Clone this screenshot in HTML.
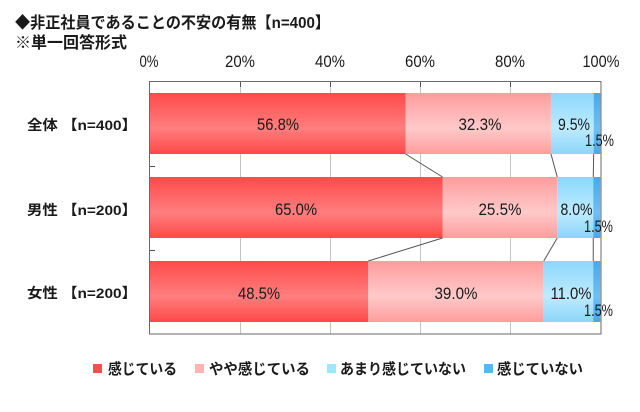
<!DOCTYPE html>
<html><head><meta charset="utf-8"><style>
html,body{margin:0;padding:0;background:#fff;}
svg{display:block;}
text{font-family:"Liberation Sans","Noto Sans CJK JP",sans-serif;fill:#1a1a1a;}
.b{font-weight:bold;}
</style></head><body>
<svg width="640" height="412" viewBox="0 0 640 412" xmlns="http://www.w3.org/2000/svg">
<defs>
<linearGradient id="gr" x1="0" y1="0" x2="0" y2="1">
<stop offset="0" stop-color="#ff4a4a"/><stop offset="0.58" stop-color="#ff7e7e"/><stop offset="1" stop-color="#ff4848"/>
</linearGradient>
<linearGradient id="gp" x1="0" y1="0" x2="0" y2="1">
<stop offset="0" stop-color="#ff9c9c"/><stop offset="0.58" stop-color="#ffc9c9"/><stop offset="1" stop-color="#ff9c9c"/>
</linearGradient>
<linearGradient id="gl" x1="0" y1="0" x2="0" y2="1">
<stop offset="0" stop-color="#8cd7fb"/><stop offset="0.58" stop-color="#bdebff"/><stop offset="1" stop-color="#8cd5f8"/>
</linearGradient>
<linearGradient id="gb" x1="0" y1="0" x2="0" y2="1">
<stop offset="0" stop-color="#45a9ee"/><stop offset="0.58" stop-color="#6cc0f5"/><stop offset="1" stop-color="#45a9ee"/>
</linearGradient>
</defs>

<text x="15" y="28" class="b" font-size="16" textLength="315" lengthAdjust="spacingAndGlyphs">◆非正社員であることの不安の有無【n=400】</text>
<text x="15" y="48" class="b" font-size="16" textLength="112" lengthAdjust="spacingAndGlyphs">※単一回答形式</text>

<!-- axis labels -->
<g font-size="17" text-anchor="middle">
<text x="149" y="67" textLength="19" lengthAdjust="spacingAndGlyphs">0%</text>
<text x="240" y="67" textLength="30" lengthAdjust="spacingAndGlyphs">20%</text>
<text x="330" y="67" textLength="30" lengthAdjust="spacingAndGlyphs">40%</text>
<text x="420" y="67" textLength="30" lengthAdjust="spacingAndGlyphs">60%</text>
<text x="510" y="67" textLength="30" lengthAdjust="spacingAndGlyphs">80%</text>
<text x="601" y="67" textLength="37" lengthAdjust="spacingAndGlyphs">100%</text>
</g>

<!-- gridlines -->
<g stroke="#c4c4c4" stroke-width="1">
<line x1="240.5" y1="82" x2="240.5" y2="334"/>
<line x1="330.5" y1="82" x2="330.5" y2="334"/>
<line x1="420.5" y1="82" x2="420.5" y2="334"/>
<line x1="510.5" y1="82" x2="510.5" y2="334"/>
</g>
<g stroke="#555" stroke-width="1">
<line x1="240.5" y1="82" x2="240.5" y2="87"/>
<line x1="330.5" y1="82" x2="330.5" y2="87"/>
<line x1="420.5" y1="82" x2="420.5" y2="87"/>
<line x1="510.5" y1="82" x2="510.5" y2="87"/>
<line x1="150" y1="166.5" x2="155" y2="166.5"/>
<line x1="150" y1="250.5" x2="155" y2="250.5"/>
</g>

<!-- bars -->
<rect x="150" y="93" width="255.6" height="61" fill="url(#gr)"/>
<rect x="405.6" y="93" width="145.35" height="61" fill="url(#gp)"/>
<rect x="550.95" y="93" width="42.75" height="61" fill="url(#gl)"/>
<rect x="593.7" y="93" width="6.6" height="61" fill="url(#gb)"/>

<rect x="150" y="177" width="292.5" height="61" fill="url(#gr)"/>
<rect x="442.5" y="177" width="114.75" height="61" fill="url(#gp)"/>
<rect x="557.25" y="177" width="36" height="61" fill="url(#gl)"/>
<rect x="593.25" y="177" width="7" height="61" fill="url(#gb)"/>

<rect x="150" y="261" width="218.25" height="61" fill="url(#gr)"/>
<rect x="368.25" y="261" width="175.5" height="61" fill="url(#gp)"/>
<rect x="543.75" y="261" width="49.5" height="61" fill="url(#gl)"/>
<rect x="593.25" y="261" width="7" height="61" fill="url(#gb)"/>

<!-- connector lines -->
<g stroke="#555" stroke-width="1">
<line x1="405.6" y1="154" x2="442.5" y2="177"/>
<line x1="550.95" y1="154" x2="557.25" y2="177"/>
<line x1="593.7" y1="154" x2="593.25" y2="177"/>
<line x1="442.5" y1="238" x2="368.25" y2="261"/>
<line x1="557.25" y1="238" x2="543.75" y2="261"/>
<line x1="593.25" y1="238" x2="593.25" y2="261"/>
</g>

<!-- frame -->
<rect x="149.5" y="81.5" width="451.5" height="252.5" fill="none" stroke="#6a6a6a" stroke-width="1"/>

<!-- bar labels -->
<g font-size="17" text-anchor="middle">
<text x="278" y="130" textLength="42" lengthAdjust="spacingAndGlyphs">56.8%</text>
<text x="480" y="130" textLength="43" lengthAdjust="spacingAndGlyphs">32.3%</text>
<text x="574" y="130" textLength="32" lengthAdjust="spacingAndGlyphs">9.5%</text>
<text x="599.5" y="146" textLength="29" lengthAdjust="spacingAndGlyphs">1.5%</text>

<text x="296" y="215" textLength="42" lengthAdjust="spacingAndGlyphs">65.0%</text>
<text x="500" y="215" textLength="43" lengthAdjust="spacingAndGlyphs">25.5%</text>
<text x="576.5" y="215" textLength="32" lengthAdjust="spacingAndGlyphs">8.0%</text>
<text x="598.5" y="232" textLength="29" lengthAdjust="spacingAndGlyphs">1.5%</text>

<text x="259" y="299" textLength="42" lengthAdjust="spacingAndGlyphs">48.5%</text>
<text x="456" y="299" textLength="43" lengthAdjust="spacingAndGlyphs">39.0%</text>
<text x="571" y="299" textLength="41" lengthAdjust="spacingAndGlyphs">11.0%</text>
<text x="598.5" y="316" textLength="29" lengthAdjust="spacingAndGlyphs">1.5%</text>
</g>

<!-- category labels -->
<g font-size="14" class="b">
<text x="27" y="130" class="b" textLength="110" lengthAdjust="spacingAndGlyphs">全体 【n=400】</text>
<text x="27" y="215" class="b" textLength="110" lengthAdjust="spacingAndGlyphs">男性 【n=200】</text>
<text x="27" y="298" class="b" textLength="110" lengthAdjust="spacingAndGlyphs">女性 【n=200】</text>
</g>

<!-- legend -->
<rect x="93" y="364" width="9" height="9" fill="#ef5050"/>
<text x="108" y="374" class="b" font-size="15" textLength="69" lengthAdjust="spacingAndGlyphs">感じている</text>
<rect x="195" y="364" width="9" height="9" fill="#ffb3b3"/>
<text x="209" y="374" class="b" font-size="15" textLength="101" lengthAdjust="spacingAndGlyphs">やや感じている</text>
<rect x="327" y="364" width="9" height="9" fill="#a6e2fd"/>
<text x="340" y="374" class="b" font-size="15" textLength="126" lengthAdjust="spacingAndGlyphs">あまり感じていない</text>
<rect x="484" y="364" width="9" height="9" fill="#5ab6f0"/>
<text x="497" y="374" class="b" font-size="15" textLength="86" lengthAdjust="spacingAndGlyphs">感じていない</text>
</svg>
</body></html>
